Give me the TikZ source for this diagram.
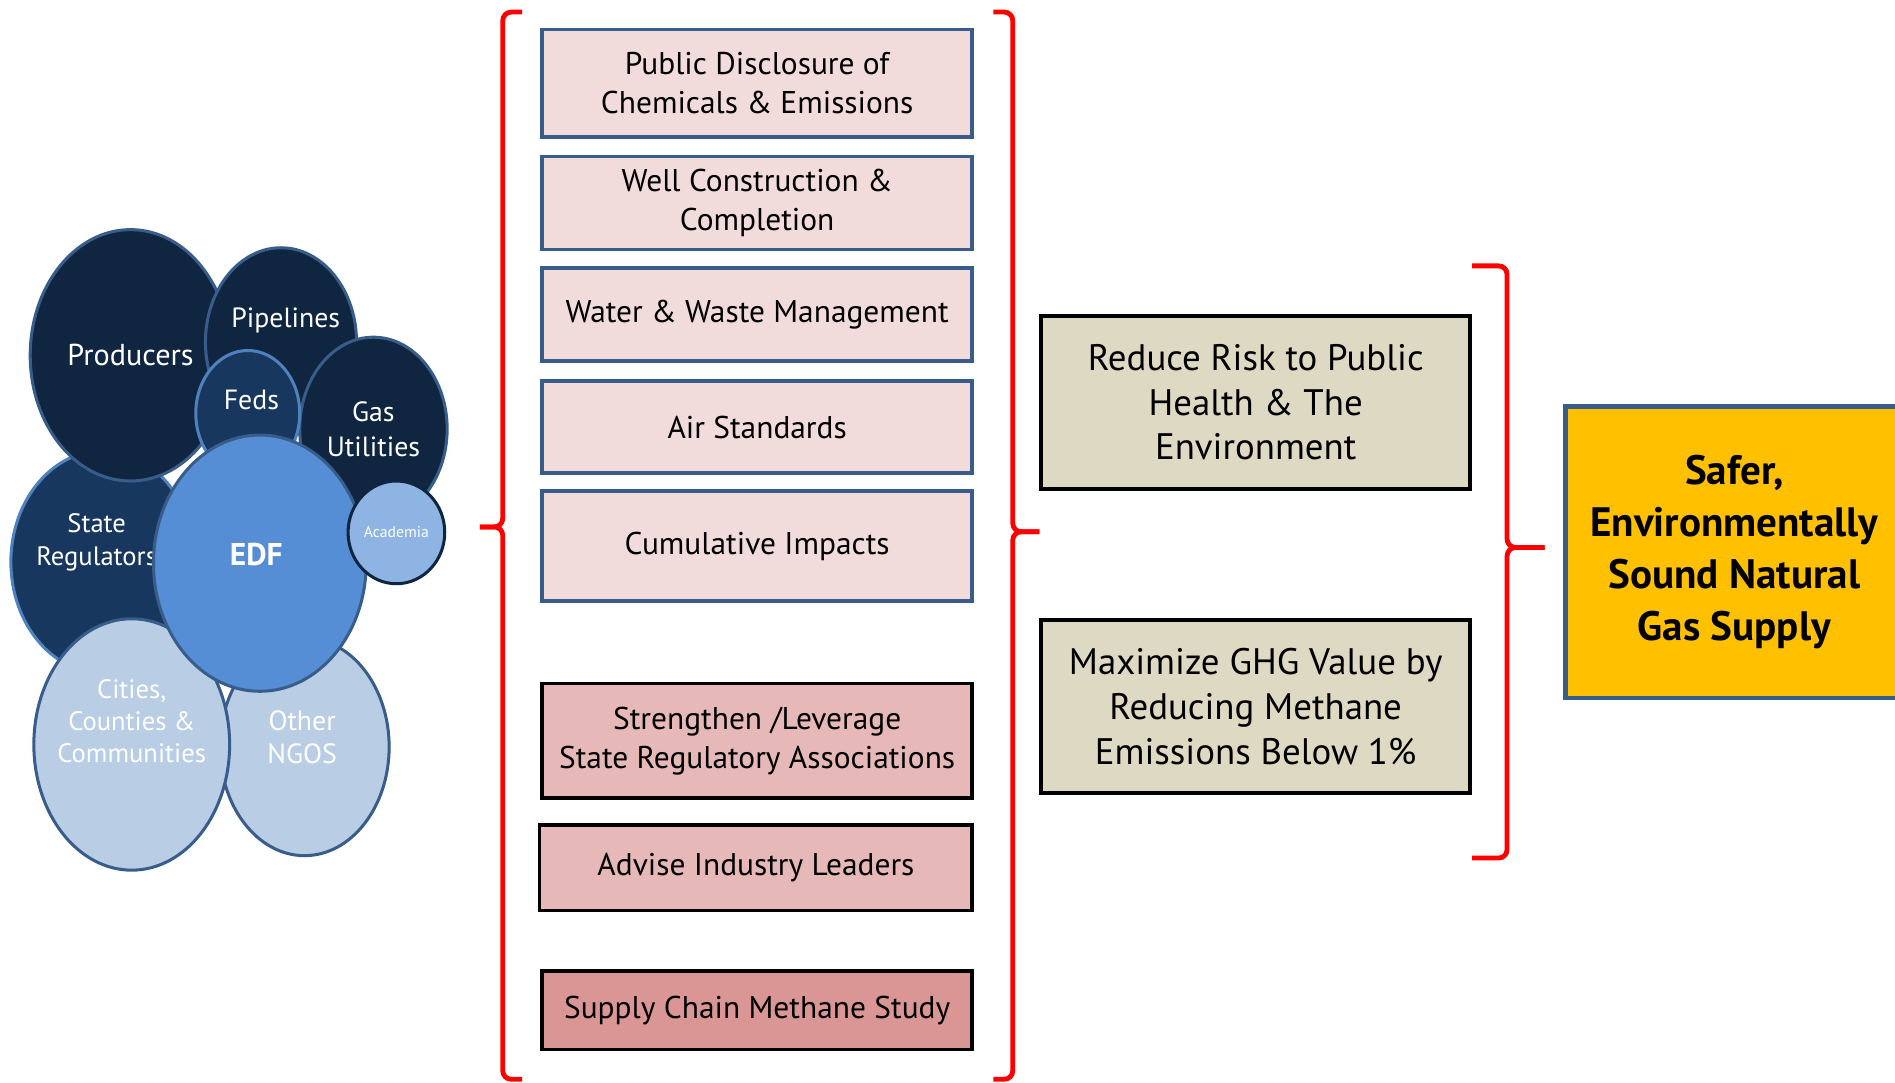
\documentclass[tikz,border=0pt]{standalone}
\usepackage{fontspec}
\setmainfont{PT Sans}
\usetikzlibrary{shapes.geometric}
\definecolor{darknavy}{HTML}{10253F}
\definecolor{midnavy}{HTML}{17375E}
\definecolor{ringblue}{HTML}{385D8A}
\definecolor{lightring}{HTML}{4F81BD}
\definecolor{edfblue}{HTML}{558ED5}
\definecolor{acadblue}{HTML}{8EB4E3}
\definecolor{paleblue}{HTML}{B9CDE5}
\definecolor{pinkone}{HTML}{F2DCDB}
\definecolor{pinktwo}{HTML}{E6B9B8}
\definecolor{pinkthree}{HTML}{D99694}
\definecolor{sand}{HTML}{DDD9C3}
\definecolor{gold}{HTML}{FFC000}

\begin{document}
\begin{tikzpicture}[x=1pt,y=-1pt]
	\tikzstyle{bubble}=[ellipse, draw=ringblue, line width=2.5pt, inner sep=0pt, text=white, align=center, font=\fontsize{23}{29}\selectfont]
	\tikzstyle{tag}=[text=white, align=center, font=\fontsize{23}{28}\selectfont]
	\tikzstyle{topic}=[rectangle, draw=ringblue, fill=pinkone, line width=3pt, minimum width=356pt, align=center, font=\fontsize{26}{32}\selectfont]
	\tikzstyle{action}=[topic, draw=black, fill=pinktwo]
	\tikzstyle{outcome}=[rectangle, draw=black, fill=sand, line width=3.5pt, minimum width=355pt, minimum height=143pt, align=center, font=\fontsize{30.5}{37}\selectfont]
	\tikzstyle{redbrace}=[draw=red, line width=4pt, rounded corners=7pt]
	\useasboundingbox (0,0) rectangle (1568,896);
	\clip (0,0) rectangle (1568,896);

	\node[bubble, fill=midnavy, draw=lightring, minimum width=152pt, minimum height=184pt,
		label={[tag, name=statetext, font=\fontsize{22}{27}\selectfont, xshift=-5pt, yshift=16pt]center:State\\Regulators}] (stateregs) at (85,465) {};
	\node[bubble, fill=darknavy, minimum width=166pt, minimum height=208pt, font=\fontsize{25}{29}\selectfont] (producers) at (108,294) {Producers};
	\node[bubble, fill=darknavy, minimum width=125pt, minimum height=156pt,
		label={[tag, name=pipetext, xshift=4pt, yshift=18pt]center:Pipelines}] (pipelines) at (232.5,283) {};
	\node[bubble, fill=darknavy, minimum width=122pt, minimum height=152pt] (gasutil) at (309,355) {Gas\\Utilities};
	\node[bubble, fill=midnavy, draw=lightring, minimum width=86pt, minimum height=104pt,
		label={[tag, name=fedtext, xshift=3pt, yshift=11pt]center:Feds}] (feds) at (205,342) {};
	\node[bubble, fill=paleblue, minimum width=140pt, minimum height=180pt,
		label={[tag, name=ngotext, xshift=-2pt, yshift=8pt]center:Other\\NGOS}] (ngos) at (252,618) {};
	\node[bubble, fill=paleblue, minimum width=162pt, minimum height=208pt,
		label={[tag, name=citytext, font=\fontsize{22}{26.5}\selectfont, yshift=19pt]center:Cities,\\Counties \&\\Communities}] (cities) at (109,616) {};
	\node[bubble, fill=edfblue, minimum width=176pt, minimum height=212pt,
		label={[tag, name=edftext, font=\bfseries\fontsize{26}{28}\selectfont, xshift=-3pt, yshift=7pt]center:EDF}] (edf) at (215,466) {};
	\node[bubble, fill=acadblue, draw=darknavy, minimum width=80pt, minimum height=85pt, font=\fontsize{13}{15}\selectfont] (academia) at (328,440.5) {Academia};

	\node[topic, minimum height=89pt] (disclosure) at (626.5,69) {Public Disclosure of\\Chemicals \& Emissions};
	\node[topic, minimum height=77pt] (wells) at (626.5,168) {Well Construction \&\\Completion};
	\node[topic, minimum height=77pt] (water) at (626.5,260) {Water \& Waste Management};
	\node[topic, minimum height=76pt] (air) at (626.5,353.5) {Air Standards};
	\node[topic, minimum height=91pt] (cumulative) at (626.5,452) {Cumulative Impacts};
	\node[action, minimum height=95pt] (states) at (626.5,613) {Strengthen /Leverage\\State Regulatory Associations};
	\node[action, minimum height=71pt, minimum width=358pt] (advise) at (625.5,718) {Advise Industry Leaders};
	\node[action, fill=pinkthree, minimum height=65pt] (study) at (626.5,836) {Supply Chain Methane Study};

	\node[outcome] (risk) at (1039,333) {Reduce Risk to Public\\Health \& The\\Environment};
	\node[outcome] (ghg) at (1039,584.5) {Maximize GHG Value by\\Reducing Methane\\Emissions Below 1\%};

	\node[rectangle, draw=ringblue, fill=gold, line width=4pt, minimum width=280pt, minimum height=241pt, align=center,
		font=\bfseries\fontsize{34}{43}\selectfont] (goal) at (1435,457) {Safer,\\Environmentally\\Sound Natural\\Gas Supply};

	\draw[redbrace] (432,10) -| (416,436) -- (397,436);
	\draw[redbrace] (397,436) -- (416,436) |- (432,893);
	\draw[redbrace] (822,10) -| (838,440) -- (860,440);
	\draw[redbrace] (860,440) -- (838,440) |- (822,893);
	\draw[redbrace] (1218,220) -| (1247,453) -- (1278,453);
	\draw[redbrace] (1278,453) -- (1247,453) |- (1218,710);
\end{tikzpicture}
\end{document}
